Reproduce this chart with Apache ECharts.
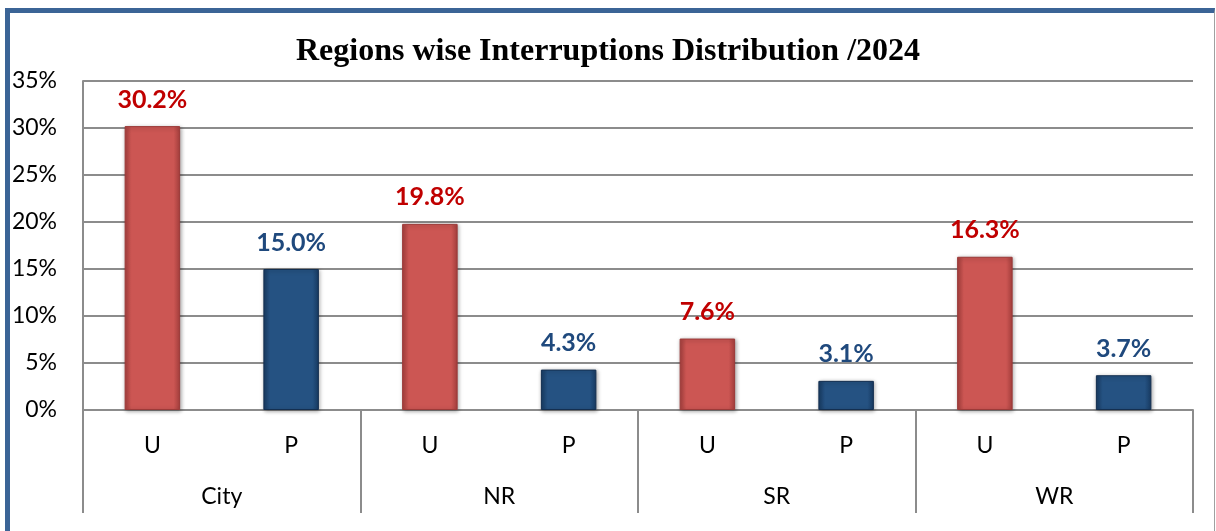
<!DOCTYPE html>
<html>
<head>
<meta charset="utf-8">
<script src="https://cdn.jsdelivr.net/npm/echarts@6/dist/echarts.min.js"></script>
<style>
  body { margin: 0; background: #fff; }
  #wrap { position: relative; width: 1216px; height: 531px; }
  #datacharts { width: 1216px; height: 531px; }
  /* blue frame around the chart like the sheet */
  #frame {
    position: absolute; left: 5px; top: 8px; width: 1204px; height: 530px;
    border-top: 5px solid #3b6496; border-left: 5px solid #3b6496; border-right: 1px solid #a0a0a0;
    pointer-events: none;
  }
</style>
</head>
<body>
<div id="wrap">
  <div id="datacharts"></div>
  <div id="frame"></div>
</div>
<script>
  // data
  var regions = ['City', 'NR', 'SR', 'WR'];
  var types = ['U', 'P'];
  var uValues = [30.2, 19.8, 7.6, 16.3];
  var pValues = [15.0, 4.3, 3.1, 3.7];
  var yTicks = [0, 5, 10, 15, 20, 25, 30, 35];

  var red = {
    type: 'linear', x: 0, y: 0, x2: 1, y2: 0,
    colorStops: [
      {offset: 0, color: '#a8403e'}, {offset: 0.12, color: '#cc5653'},
      {offset: 0.88, color: '#cc5653'}, {offset: 1, color: '#a8403e'}
    ]
  };
  var blue = {
    type: 'linear', x: 0, y: 0, x2: 1, y2: 0,
    colorStops: [
      {offset: 0, color: '#183c64'}, {offset: 0.12, color: '#255282'},
      {offset: 0.88, color: '#255282'}, {offset: 1, color: '#183c64'}
    ]
  };

  var cats = [];
  var barData = [];
  for (var i = 0; i < regions.length; i++) {
    cats.push(types[0], types[1]);
    barData.push({
      value: uValues[i],
      itemStyle: {color: red, borderColor: '#9c3a38'},
      label: {color: '#c00000'}
    });
    barData.push({
      value: pValues[i],
      itemStyle: {color: blue, borderColor: '#142f50'},
      label: {color: '#1f497d'}
    });
  }

  var myChart = echarts.init(document.getElementById('datacharts'));
  myChart.setOption({
    animation: false,
    title: {
      text: 'Regions wise Interruptions Distribution /2024',
      left: 'center',
      top: 31,
      textStyle: {
        fontFamily: 'Liberation Serif',
        fontWeight: 'bold',
        fontSize: 32,
        color: '#000'
      }
    },
    grid: {left: 83, right: 23, top: 81, bottom: 121},
    xAxis: [
      {
        type: 'category',
        data: cats,
        axisLine: {show: true, lineStyle: {color: '#8c8c8c', width: 2}},
        axisTick: {show: false},
        axisLabel: {
          margin: 24,
          fontFamily: 'Lato',
          fontSize: 23,
          color: '#000'
        }
      },
      {
        type: 'category',
        position: 'bottom',
        data: regions,
        axisLine: {show: false},
        axisTick: {show: true, length: 103, lineStyle: {color: '#8c8c8c', width: 2}},
        axisLabel: {
          margin: 75,
          fontFamily: 'Lato',
          fontSize: 23,
          color: '#000'
        }
      }
    ],
    yAxis: {
      type: 'value',
      min: yTicks[0],
      max: yTicks[yTicks.length - 1],
      interval: 5,
      axisLine: {show: true, lineStyle: {color: '#8c8c8c', width: 2}},
      axisTick: {show: false},
      splitLine: {lineStyle: {color: '#8c8c8c', width: 2}},
      axisLabel: {
        formatter: '{value}%',
        margin: 26,
        fontFamily: 'Lato',
        fontSize: 23,
        color: '#000'
      }
    },
    series: [
      {
        type: 'bar',
        xAxisIndex: 0,
        barWidth: '40%',
        data: barData,
        itemStyle: {
          borderWidth: 1,
          shadowColor: 'rgba(0,0,0,0.35)',
          shadowBlur: 4,
          shadowOffsetX: 1,
          shadowOffsetY: 1
        },
        label: {
          show: true,
          position: 'top',
          distance: 14,
          fontFamily: 'Lato',
          fontWeight: 'bold',
          fontSize: 25,
          formatter: function (p) { return p.value.toFixed(1) + '%'; }
        }
      }
    ]
  });
</script>
</body>
</html>
